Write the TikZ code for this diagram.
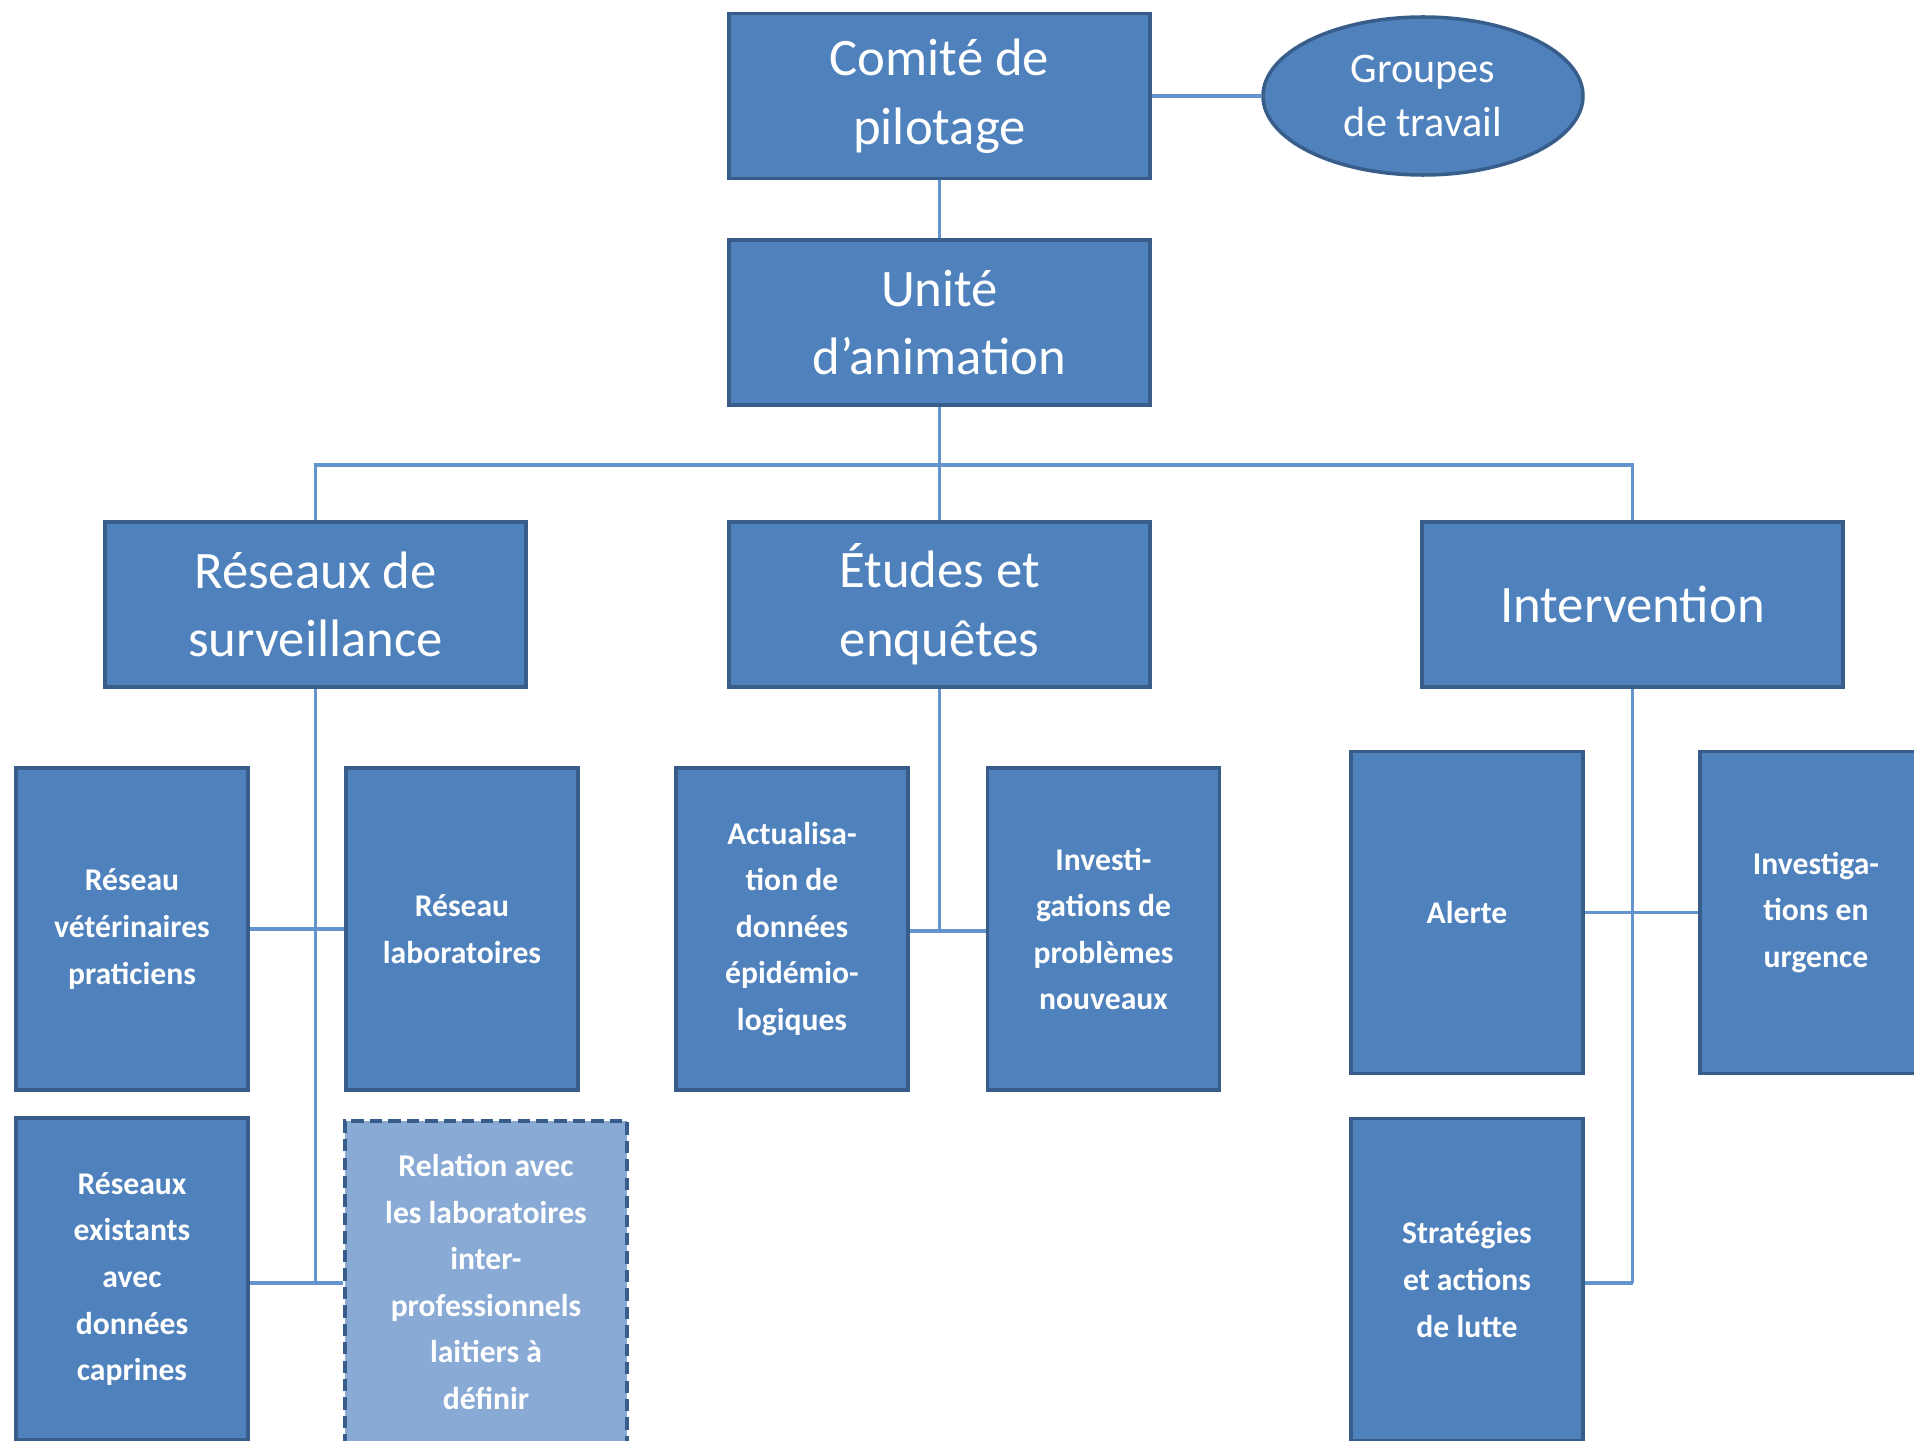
\documentclass[tikz,border=0pt]{standalone}
\usepackage{fontspec}
\setmainfont{Carlito}
\usetikzlibrary{shapes.geometric}
\definecolor{boxblue}{RGB}{79,129,189}
\definecolor{boxline}{RGB}{56,93,138}
\definecolor{linkblue}{RGB}{100,148,206}
\definecolor{paleblue}{RGB}{138,170,214}

\begin{document}
\begin{tikzpicture}[x=0.2mm,y=-0.2mm]
    \tikzset{unit/.style = {shape=rectangle, draw=boxline, fill=boxblue, line width=2pt, text=white, align=center}}
    \tikzset{bigunit/.style = {unit, minimum width=84.2mm, minimum height=33mm, font=\fontsize{30}{39}\selectfont}}
    \tikzset{subunit/.style = {unit, minimum width=46.4mm, minimum height=64.4mm, font=\fontsize{18}{26.5}\selectfont\bfseries}}
    \tikzset{link/.style = {draw=linkblue, line width=2pt, -}}
    \useasboundingbox (0,0) rectangle (1914,1441);

    % vertices
    \node[bigunit] (comite) at (939.5,96) {Comité de\\pilotage};
    \node[unit, ellipse, minimum width=64mm, minimum height=31.6mm, font=\fontsize{24}{31}\selectfont] (groupes) at (1423,96) {Groupes\\de travail};
    \node[bigunit] (unite) at (939.5,322.5) {Unité\\d’animation};
    \node[bigunit] (reseaux) at (315.5,604.5) {Réseaux de\\surveillance};
    \node[bigunit] (etudes) at (939.5,604.5) {Études et\\enquêtes};
    \node[bigunit] (interv) at (1632.5,604.5) {Intervention};

    \node[subunit] (vet) at (132,929) {Réseau\\vétérinaires\\praticiens};
    \node[subunit] (labo) at (462,929) {Réseau\\laboratoires};
    \node[subunit] (exist) at (132,1279) {Réseaux\\existants\\avec\\données\\caprines};
    \node[subunit, fill=paleblue, minimum width=56.4mm, dash pattern=on 7pt off 3.5pt] (relation) at (486,1282) {Relation avec\\les laboratoires\\inter-\\professionnels\\laitiers à\\définir};
    \node[subunit] (actual) at (792,929) {Actualisa-\\tion de\\données\\épidémio-\\logiques};
    \node[subunit] (invpb) at (1103.5,929) {Investi-\\gations de\\problèmes\\nouveaux};
    \node[subunit] (alerte) at (1467,912.5) {Alerte};
    \node[subunit] (invurg) at (1816,912.5) {Investiga-\\tions en\\urgence};
    \node[subunit] (strat) at (1467,1279.5) {Stratégies\\et actions\\de lutte};

    \coordinate (bus) at (939.5,465);
    \coordinate (rbot) at (315.5,1283);
    \coordinate (ebot) at (939.5,931);
    \coordinate (ibot) at (1632.5,1283);

    % edges
    \draw[link] (comite) -- (groupes);
    \draw[link] (comite) -- (unite);
    \draw[link] (unite) -- (etudes);
    \draw[link] (reseaux.north) |- (bus) -| (interv.north);
    \draw[link] (reseaux.south) -- (rbot);
    \draw[link] (vet.east) -- (labo.west);
    \draw[link] (exist.east |- rbot) -- (relation.west |- rbot);
    \draw[link] (etudes.south) -- (ebot);
    \draw[link] (actual.east |- ebot) -- (invpb.west |- ebot);
    \draw[link] (interv.south) -- (ibot);
    \draw[link] (alerte.east) -- (invurg.west);
    \draw[link] (strat.east |- ibot) -- (ibot);
\end{tikzpicture}
\end{document}
